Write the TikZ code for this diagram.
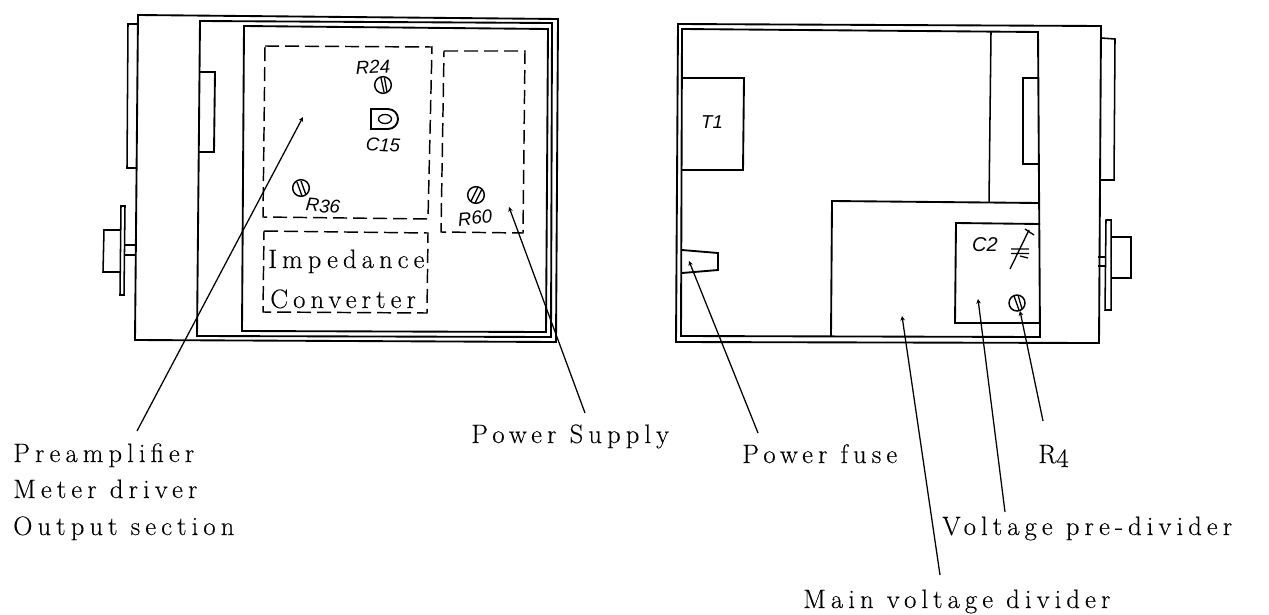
\documentclass[tikz,border=0pt]{standalone}
\usepackage{fontspec}
\setmainfont{Latin Modern Roman}[LetterSpace=19,FakeBold=0.25]
\newfontfamily\handfont{Liberation Sans}
\usetikzlibrary{arrows.meta}
\tikzset{
  wall/.style={draw=black,line width=1.4pt,line join=miter},
  thinwall/.style={draw=black,line width=1.15pt},
  dashbox/.style={draw=black,line width=1.1pt,dash pattern=on 10.5pt off 4.5pt},
  leader/.style={draw=black,line width=0.95pt,-{Stealth[length=3.5pt,width=3.5pt]}},
  label/.style={inner sep=0pt,anchor=base west,font=\fontsize{20}{24}\selectfont},
  hand/.style={inner sep=0pt,font=\handfont\itshape\fontsize{14}{16}\selectfont},
  screw/.style={circle,draw=black,line width=1.1pt,minimum size=12.5pt,inner sep=0pt},
}
\begin{document}
\begin{tikzpicture}[x=0.75pt,y=-0.75pt]
\useasboundingbox (0,0) rectangle (1269,614);
% ---- left unit
\draw[wall] (138,15) -- (558,19) -- (556,342) -- (135,340) -- cycle;
\draw[wall] (200,21) -- (552,23) -- (551,337) -- (197,336) -- cycle;
\draw[wall] (244,26) -- (548,29) -- (546,332) -- (242,331) -- cycle;
\draw[thinwall] (138,24) -- (128,24) -- (127,168) -- (136,168);
\draw[thinwall] (121,206) -- (125,206) -- (124,295) -- (120,295) -- cycle;
\draw[thinwall] (120,230) -- (104,230) -- (103,272) -- (120,272);
\draw[thinwall] (125,245) -- (135,245) (125,255) -- (135,255);
\draw[wall] (200,72) -- (215,72) -- (214,152) -- (198,152);
\draw[dashbox] (265,46) -- (432,47) -- (428,219) -- (263,217) -- cycle;
\draw[dashbox] (444,51) -- (525,51) -- (523,233) -- (441,232) -- cycle;
\draw[dashbox] (264,231) -- (428,233) -- (427,313) -- (263,312) -- cycle;
\node[screw] (r24) at (383,85) {};
\draw[line width=1pt] (381,78) -- (384,92) (384.5,78) -- (387,92);
\node[screw] (r36) at (301,188) {};
\draw[line width=1pt] (297,182) -- (302,196) (301,181) -- (306,195);
\node[screw] (r60) at (476,195) {};
\draw[line width=1pt] (478,187) -- (471,201) (482,189) -- (475,203);
\draw[wall] (371,109) -- (388,109) arc[start angle=-90,end angle=90,radius=10] -- (371,129) -- cycle;
\draw[line width=1pt] (385,119) ellipse[x radius=6.5,y radius=4.5];
\node[hand,rotate=3] (tr24) at (373,67) {R24};
\node[hand,rotate=-3] (tc15) at (383,145) {C15};
\node[hand,rotate=-5] (tr36) at (323,206) {R36};
\node[hand,rotate=6] (tr60) at (475,218) {R60};
\node[label] (timp) at (268,268) {Impedance};
\node[label] (tcon) at (270,308) {Converter};
\coordinate (tipa) at (303,117);
\coordinate (enda) at (137,431);
\coordinate (tipb) at (509,207);
\coordinate (endb) at (585,413);
\draw[leader] (enda) -- (tipa);
\draw[leader] (endb) -- (tipb);
\node[label] (lpre) at (13,462) {Preamplifier};
\node[label] (lmet) at (13,498) {Meter driver};
\node[label] (lout) at (13,535) {Output section};
\node[label] (lpow) at (471,443) {Power Supply};
% ---- right unit
\draw[wall] (678,24) -- (1101,26) -- (1099,343) -- (676,342) -- cycle;
\draw[wall] (682,29) -- (1038,32) -- (1040,337) -- (681,336) -- cycle;
\draw[thinwall] (991,32) -- (989,202);
\draw[wall] (831,336) -- (832,201) -- (1039,203);
\draw[wall] (682,78) -- (744,78) -- (743,170) -- (682,170);
\draw[wall] (682,250) -- (718,253) -- (718,270) -- (682,273);
\draw[wall] (1039,78) -- (1023,78) -- (1023,164) -- (1039,164);
\draw[wall] (1040,224) -- (956,223) -- (955,323) -- (1040,323);
\draw[thinwall] (1101,38) -- (1115,39) -- (1114,180) -- (1101,180);
\draw[thinwall] (1106,220) -- (1111,220) -- (1111,310) -- (1105,310) -- cycle;
\draw[thinwall] (1111,237) -- (1131,237) -- (1131,278) -- (1111,278);
\draw[thinwall] (1098,257) -- (1106,257) (1098,266) -- (1106,266);
\node[hand] (tt1) at (712,122) {T1};
\node[hand,font=\handfont\itshape\fontsize{15}{17}\selectfont] (tc2) at (985,245) {C2};
\draw[line width=1pt] (1011,249) -- (1029,249) (1011,253.5) -- (1029,253.5)
  (1010,269) -- (1029,230) (1025,229) -- (1034,235) (1020,256) -- (1028,258);
\node[screw,minimum size=12pt] (r4) at (1017,303) {};
\draw[line width=1pt] (1014,296) -- (1019,310) (1018,295) -- (1022,309);
\coordinate (tipf) at (689,261);
\coordinate (endf) at (758,433);
\coordinate (tipm) at (902,316);
\coordinate (endm) at (940,575);
\coordinate (tipp) at (978,299);
\coordinate (endp) at (1005,512);
\coordinate (tipr) at (1020,311);
\coordinate (endr) at (1043,421);
\draw[leader] (endf) -- (tipf);
\draw[leader] (endm) -- (tipm);
\draw[leader] (endp) -- (tipp);
\draw[leader] (endr) -- (tipr);
\node[label] (lfus) at (742,463) {Power fuse};
\node[label] (lr4) at (1038,463) {R\raisebox{-3pt}{4}};
\node[label] (lvol) at (942,535) {Voltage pre-divider};
\node[label] (lmai) at (803,608) {Main voltage divider};
\end{tikzpicture}
\end{document}
